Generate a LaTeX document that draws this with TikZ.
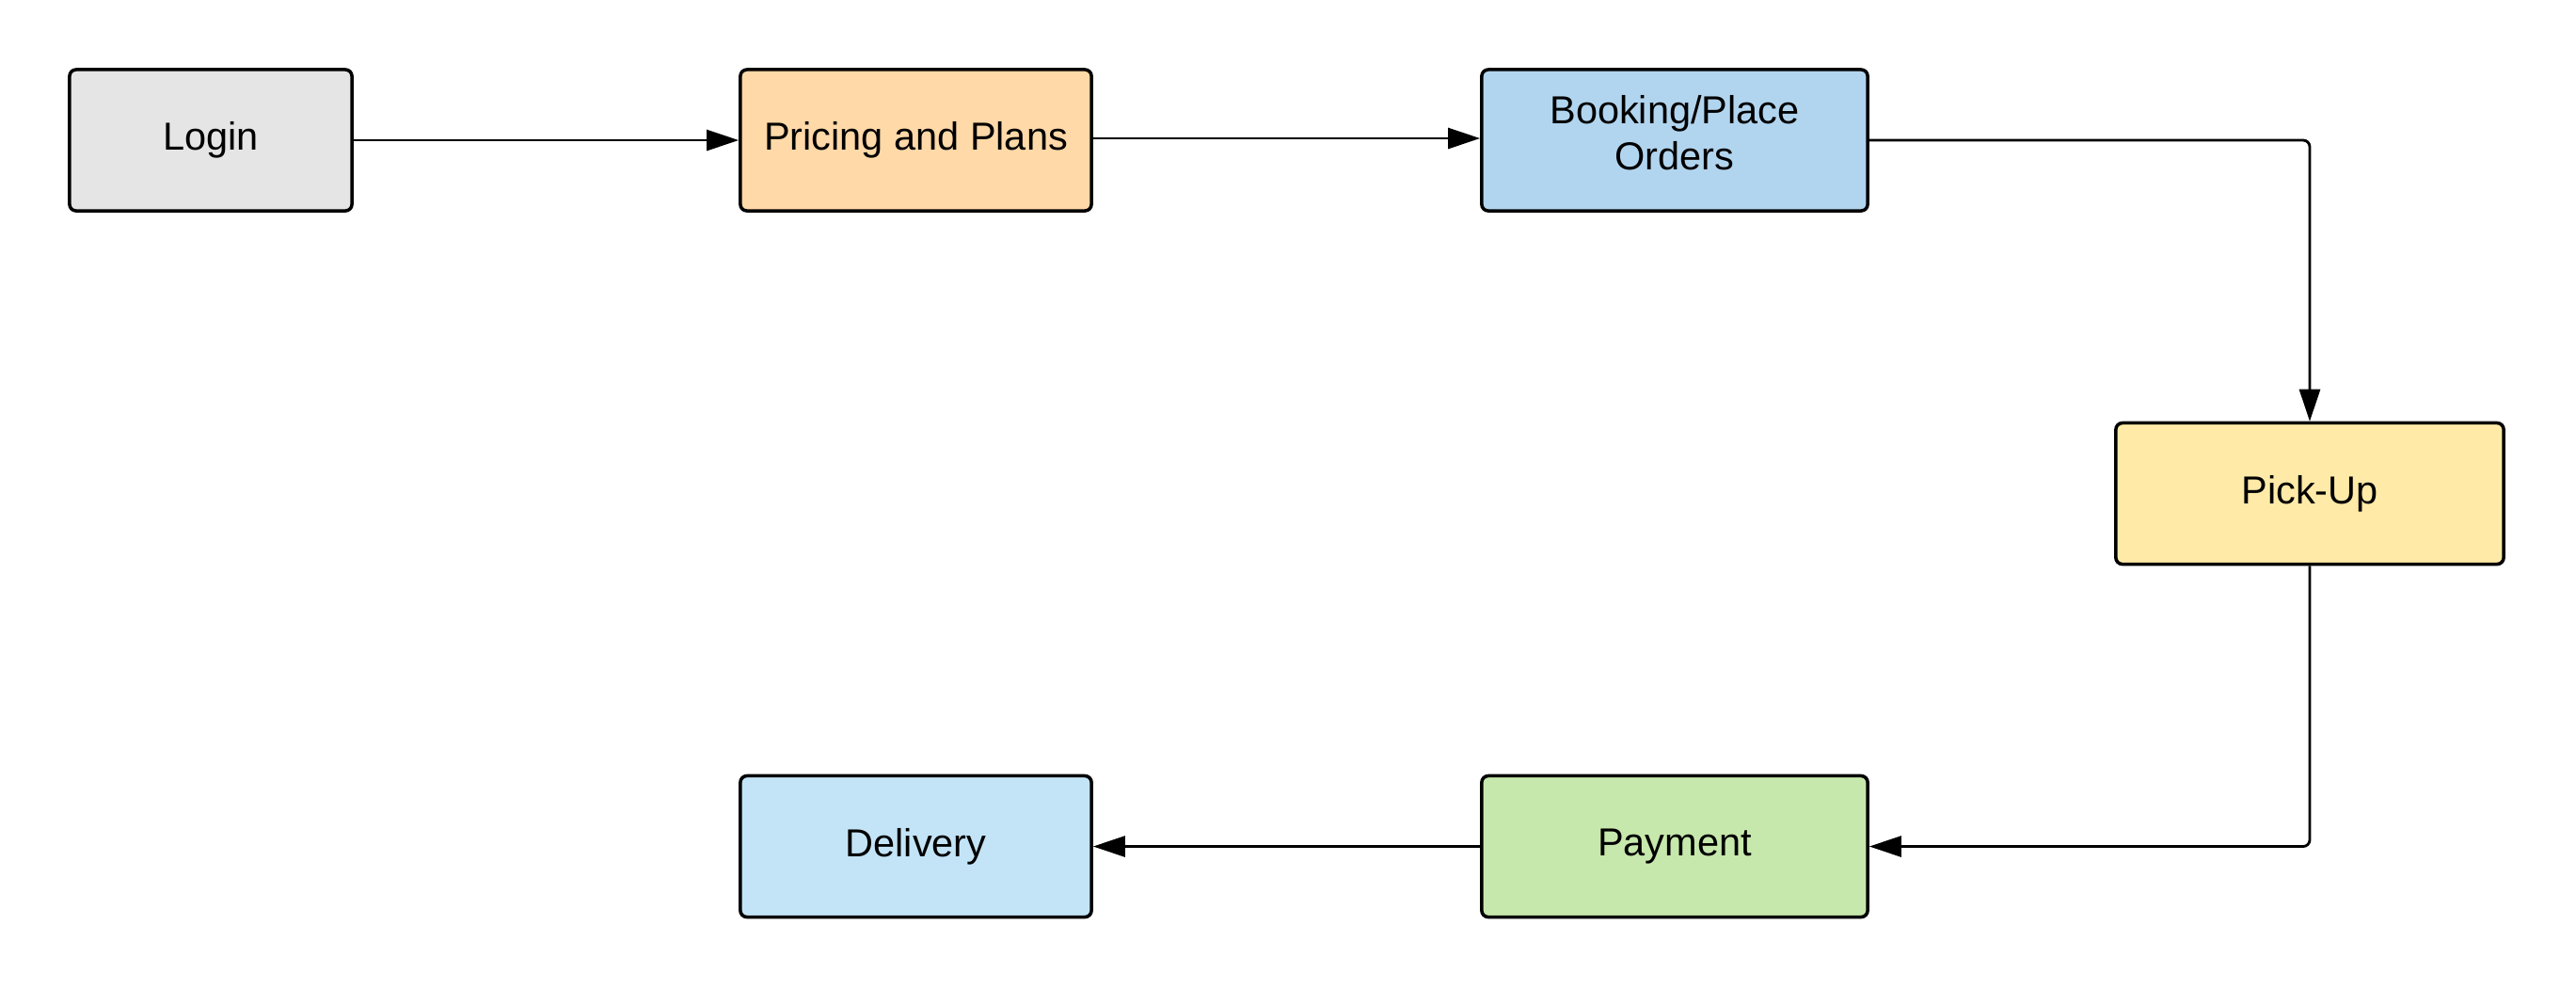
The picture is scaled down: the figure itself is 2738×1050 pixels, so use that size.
\documentclass[tikz,border=0pt]{standalone}
\usepackage{fontspec}
\setmainfont{Liberation Sans}
\usetikzlibrary{arrows.meta}
\definecolor{cLogin}{HTML}{E5E5E5}
\definecolor{cPrice}{HTML}{FFD9A8}
\definecolor{cBook}{HTML}{B2D5EF}
\definecolor{cPick}{HTML}{FFEAA7}
\definecolor{cDeliv}{HTML}{C3E4F7}
\definecolor{cPay}{HTML}{C7E8AC}
\tikzset{
  box/.style={draw=black, line width=1pt, rounded corners=0.07cm, inner sep=0pt,
    minimum height=1.5cm, align=center, font=\fontsize{11.8}{14.1}\selectfont},
  conn/.style={draw=black, line width=0.8pt, rounded corners=0.07cm,
    -{Triangle[length=0.34cm, width=0.22cm]}}
}
\begin{document}
\begin{tikzpicture}[x=0.01cm, y=-0.01cm]
\useasboundingbox (0,0) rectangle (2738,1050);
\node[box, fill=cLogin, minimum width=3cm] (login) at (224,149) {Login};
\node[box, fill=cPrice, minimum width=3.73cm] (price) at (973.5,149) {Pricing and Plans};
\node[box, fill=cBook, minimum width=4.1cm] (book) at (1780,149) {};
\node[font=\fontsize{11.8}{14.1}\selectfont, align=center, inner sep=0pt] (booktext) at (1780,141) {Booking/Place\\Orders};
\node[box, fill=cPick, minimum width=4.12cm] (pick) at (2455,524.5) {Pick-Up};
\node[box, fill=cDeliv, minimum width=3.73cm] (deliv) at (973.5,899.5) {Delivery};
\node[box, fill=cPay, minimum width=4.1cm] (pay) at (1780,899.5) {Payment};
\draw[conn] (login.east) -- (price.west);
\draw[conn] ([yshift=0.02cm]price.east) -- ([yshift=0.02cm]book.west);
\draw[conn] (book.east) -| (pick.north);
\draw[conn] (pick.south) |- (pay.east);
\draw[conn] (pay.west) -- (deliv.east);
\end{tikzpicture}
\end{document}
